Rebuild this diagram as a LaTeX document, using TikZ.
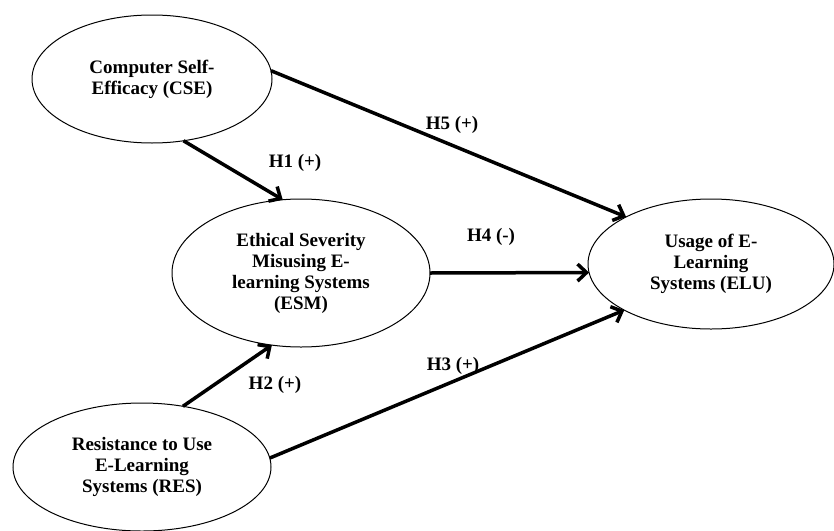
\documentclass[tikz,border=0pt]{standalone}
\usepackage{fontspec}
\setmainfont{Liberation Serif}
\usetikzlibrary{shapes.geometric, arrows.meta}

\begin{document}
\begin{tikzpicture}[x=1pt, y=-1pt,
    construct/.style={ellipse, draw, line width=1pt, inner sep=0pt, outer sep=0pt,
        align=center, font=\fontsize{19}{21}\selectfont\bfseries},
    hyp/.style={line width=3.5pt, -{Straight Barb[length=9pt, width=17pt]}},
    hlabel/.style={font=\fontsize{19}{21}\selectfont\bfseries}]
    \useasboundingbox (0,0) rectangle (834,530);

    \node[construct, minimum width=240pt, minimum height=128pt] (cse) at (152,79) {Computer Self-\\Efficacy (CSE)};
    \node[construct, minimum width=258pt, minimum height=148pt] (esm) at (301,273) {Ethical Severity\\Misusing E-\\learning Systems\\(ESM)};
    \node[construct, minimum width=246pt, minimum height=130pt] (elu) at (711,264) {Usage of E-\\Learning\\Systems (ELU)};
    \node[construct, minimum width=258pt, minimum height=128pt] (res) at (142,467) {Resistance to Use\\E-Learning\\Systems (RES)};

    \draw[hyp] (cse.-63) -- (esm.104);
    \draw[hyp] (cse.4) -- (elu.151);
    \draw[hyp] (esm.east) -- (elu.184);
    \draw[hyp] (res.56) -- (esm.248);
    \draw[hyp] (res.4) -- (elu.208);

    \node[hlabel] (h1) at (295,163) {H1 (+)};
    \node[hlabel] (h5) at (452,125) {H5 (+)};
    \node[hlabel] (h4) at (491,237) {H4 (-)};
    \node[hlabel] (h2) at (275,385) {H2 (+)};
    \node[hlabel] (h3) at (453,366) {H3 (+)};
\end{tikzpicture}
\end{document}
